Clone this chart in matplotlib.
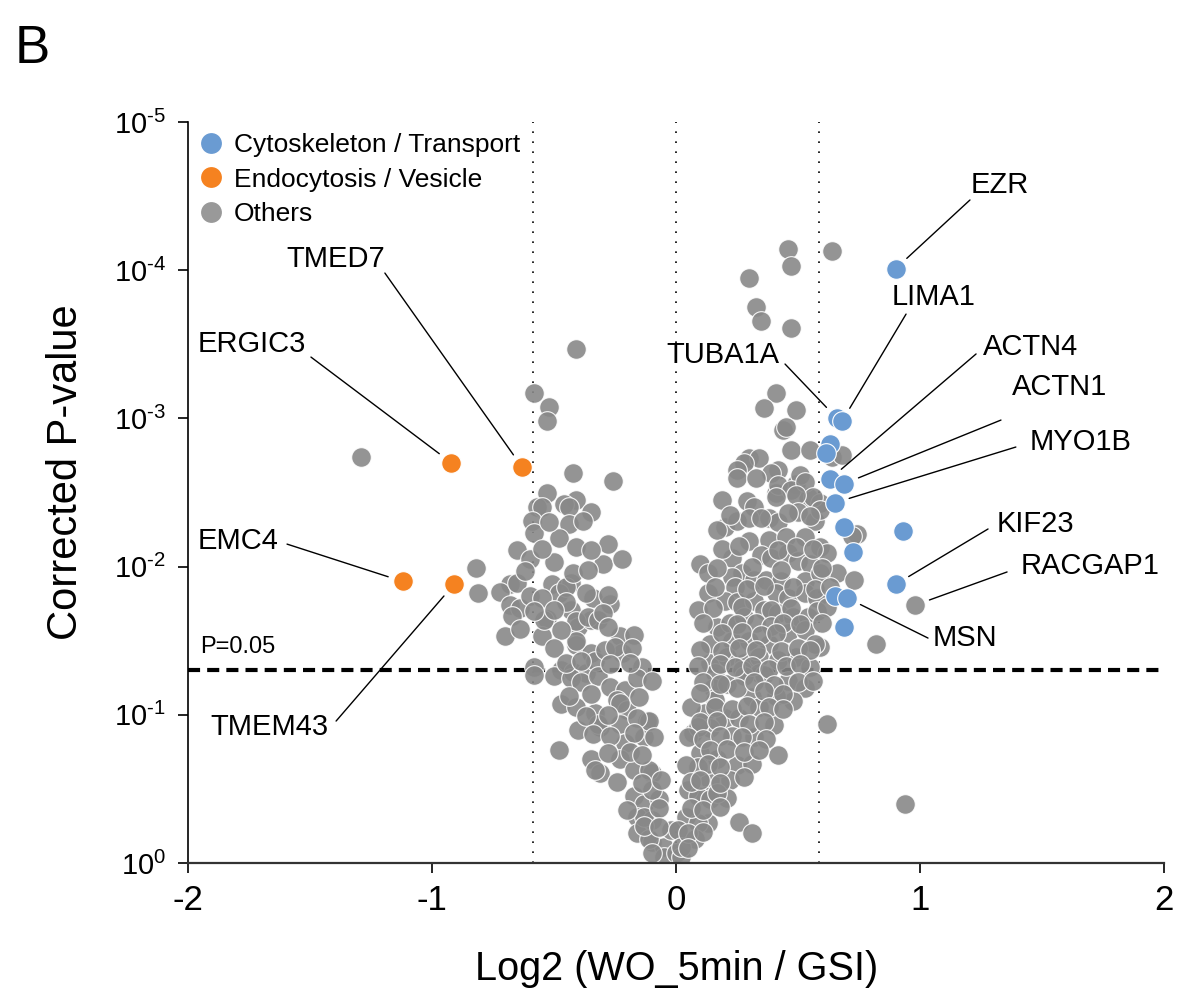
import numpy as np
import matplotlib
matplotlib.use("Agg")
import matplotlib.pyplot as plt
from matplotlib.lines import Line2D
from matplotlib.ticker import NullLocator, FuncFormatter

plt.rcParams['font.family'] = ['Liberation Sans', 'DejaVu Sans']
plt.rcParams['axes.unicode_minus'] = False
plt.rcParams['mathtext.fontset'] = 'custom'
plt.rcParams['mathtext.rm'] = 'Liberation Sans'

#-------data: log2 fold change and -log10(corrected P)-------
# left arm of the volcano (others)
gray_left_fc = [-0.41, -0.58, -0.52, -0.53, -0.42, -0.26, -0.53, -0.41, -0.57, -0.55,
                -0.46, -0.44, -0.35, -0.59, -0.44, -0.58, -0.48, -0.28, -0.30, -0.22,
                -0.65, -0.60, -0.50, -0.82, -0.68, -0.72, -0.51, -0.43, -0.34, -0.48,
                -0.81, -0.65, -0.68, -0.64, -0.67, -0.70, -0.45, -0.37, -0.53, -0.55,
                -0.43, -0.40, -0.35, -0.41, -0.35, -0.58, -0.47, -0.42, -0.37, -0.54,
                -0.45, -0.41, -0.36, -0.32, -0.41, -0.33, -0.23, -0.17, -0.22, -0.14,
                -0.58, -0.50, -0.43, -0.39, -0.32, -0.27, -0.21, -0.16, -0.10, -0.47,
                -0.41, -0.33, -0.24, -0.20, -0.40, -0.31, -0.23, -0.12, -0.21, -0.13,
                -0.48, -0.35, -0.31, -0.23, -0.17, -0.10, -0.17, -0.13, -0.07, -0.16,
                -0.10, -0.16, -0.10, -0.05, -0.02, -0.05, -0.27, -0.32, -0.23, -0.11,
                -0.09, -0.11, -0.33, -0.10, -0.13, -0.11, -0.10, 0.00]
gray_left_nlp = [3.47, 3.17, 3.08, 2.98, 2.63, 2.58, 2.50, 2.45, 2.40, 2.40,
                 2.42, 2.40, 2.37, 2.31, 2.29, 2.23, 2.19, 2.15, 2.02, 2.05,
                 2.11, 2.05, 2.03, 1.99, 1.88, 1.83, 1.88, 1.89, 1.79, 1.82,
                 1.82, 1.89, 1.74, 1.72, 1.67, 1.53, 1.86, 1.82, 1.65, 1.53,
                 1.71, 1.59, 1.64, 1.47, 1.42, 1.32, 1.30, 1.29, 1.28, 1.64,
                 1.76, 1.63, 1.66, 1.64, 1.50, 1.36, 1.53, 1.54, 1.42, 1.32,
                 1.27, 1.26, 1.25, 1.22, 1.26, 1.19, 1.17, 1.25, 1.23, 1.07,
                 1.05, 1.01, 1.10, 1.03, 0.90, 0.92, 0.94, 0.96, 0.81, 0.85,
                 0.76, 0.70, 0.61, 0.70, 0.63, 0.61, 0.45, 0.40, 0.43, 0.31,
                 0.29, 0.20, 0.14, 0.11, 0.22, 0.04, 1.75, 0.94, 1.08, 0.96,
                 0.85, 0.63, 0.63, 0.49, 0.31, 0.16, 0.07, 0.07]
# densely packed middle of the left arm
gray_left_core_fc = [-0.52, -0.38,
                     -0.55, -0.41, -0.35,
                     -0.62, -0.42, -0.36,
                     -0.60, -0.55, -0.28,
                     -0.58, -0.50, -0.30,
                     -0.64, -0.47, -0.28,
                     -0.50, -0.29, -0.25, -0.18,
                     -0.45, -0.39, -0.27, -0.19,
                     -0.44, -0.35, -0.15,
                     -0.37, -0.28, -0.16,
                     -0.34, -0.27, -0.17,
                     -0.28, -0.19, -0.14,
                     -0.24, -0.14, -0.06,
                     -0.20, -0.07,
                     -0.13, -0.07]
gray_left_core_nlp = [2.30, 2.31,
                      2.12, 2.13, 2.11,
                      1.97, 1.96, 1.98,
                      1.80, 1.79, 1.81,
                      1.70, 1.71, 1.69,
                      1.58, 1.57, 1.59,
                      1.45, 1.44, 1.46, 1.45,
                      1.35, 1.36, 1.34, 1.35,
                      1.13, 1.14, 1.12,
                      0.99, 1.00, 0.98,
                      0.87, 0.86, 0.88,
                      0.74, 0.75, 0.73,
                      0.55, 0.54, 0.56,
                      0.36, 0.37,
                      0.25, 0.24]
# right arm of the volcano (others)
gray_right_fc = [0.46, 0.47, 0.64, 0.30, 0.33, 0.35, 0.47, 0.41, 0.36, 0.49,
                 0.44, 0.45, 0.47, 0.55, 0.64, 0.30, 0.34, 0.28, 0.25, 0.42,
                 0.39, 0.49, 0.51, 0.41, 0.19, 0.54, 0.59, 0.68, 0.74, 0.59,
                 0.25, 0.33, 0.42, 0.47, 0.53, 0.56, 0.29, 0.32, 0.41, 0.49,
                 0.20, 0.17, 0.25, 0.30, 0.38, 0.42, 0.50, 0.57, 0.59, 0.72,
                 0.30, 0.38, 0.45, 0.53, 0.59, 0.62, 0.10, 0.13, 0.23, 0.27,
                 0.35, 0.39, 0.46, 0.50, 0.55, 0.66, 0.73, 0.23, 0.24, 0.32,
                 0.37, 0.43, 0.53, 0.59, 0.13, 0.09, 0.20, 0.25, 0.32, 0.41,
                 0.46, 0.53, 0.58, 0.17, 0.14, 0.22, 0.28, 0.36, 0.42, 0.48,
                 0.54, 0.23, 0.30, 0.38, 0.46, 0.53, 0.57, 0.14, 0.21, 0.28,
                 0.34, 0.42, 0.49, 0.55, 0.16, 0.27, 0.34, 0.15, 0.21, 0.28,
                 0.36, 0.46, 0.53, 0.48, 0.41, 0.31, 0.25, 0.12, 0.20, 0.26,
                 0.34, 0.40, 0.32, 0.23, 0.14, 0.07, 0.10, 0.25, 0.31, 0.42,
                 0.22, 0.28, 0.14, 0.12, 0.21, 0.13, 0.26, 0.31, 0.02, 0.06,
                 0.16, 0.09, 0.17, 0.09, 0.05, 0.09, 0.14, 0.17, 0.04, 0.09,
                 0.01, 0.08, 0.02]
gray_right_nlp = [4.14, 4.03, 4.13, 3.95, 3.75, 3.66, 3.61, 3.17, 3.07, 3.06,
                  2.92, 2.94, 2.79, 2.79, 2.74, 2.73, 2.73, 2.70, 2.65, 2.65,
                  2.63, 2.56, 2.62, 2.50, 2.45, 2.47, 2.43, 2.75, 2.22, 1.46,
                  2.60, 2.60, 2.55, 2.52, 2.57, 2.47, 2.44, 2.40, 2.47, 2.48,
                  2.27, 2.25, 2.31, 2.33, 2.33, 2.30, 2.37, 2.31, 2.38, 2.21,
                  2.17, 2.18, 2.20, 2.20, 2.13, 2.09, 2.02, 1.96, 2.06, 1.96,
                  2.08, 2.06, 2.09, 2.04, 2.02, 1.96, 1.91, 1.93, 1.86, 1.91,
                  1.91, 1.90, 1.90, 1.96, 1.82, 1.71, 1.77, 1.76, 1.77, 1.82,
                  1.79, 1.82, 1.79, 1.59, 1.48, 1.62, 1.66, 1.71, 1.69, 1.66,
                  1.66, 1.50, 1.50, 1.48, 1.55, 1.57, 1.48, 1.35, 1.39, 1.35,
                  1.39, 1.37, 1.39, 1.32, 1.28, 1.30, 1.28, 1.18, 1.21, 1.26,
                  1.27, 1.23, 1.18, 1.09, 1.13, 1.12, 1.18, 1.01, 0.98, 0.98,
                  1.05, 0.93, 0.85, 0.86, 0.91, 0.88, 0.74, 0.66, 0.67, 0.73,
                  0.56, 0.58, 0.56, 0.45, 0.44, 0.27, 0.28, 0.20, 0.04, 1.05,
                  1.10, 0.92, 0.70, 0.65, 0.49, 0.45, 0.43, 0.47, 0.31, 0.27,
                  0.22, 0.16, 0.11]
# densely packed middle of the right arm
gray_right_core_fc = [0.22, 0.35, 0.46, 0.55,
                      0.19, 0.26, 0.42, 0.49, 0.56,
                      0.17, 0.31, 0.43, 0.60,
                      0.16, 0.29, 0.36, 0.48, 0.57, 0.63,
                      0.15, 0.27, 0.39, 0.47, 0.58, 0.62,
                      0.11, 0.25, 0.33, 0.39, 0.44, 0.51, 0.60,
                      0.19, 0.27, 0.35, 0.41,
                      0.10, 0.19, 0.26, 0.33, 0.43, 0.50, 0.55,
                      0.09, 0.18, 0.24, 0.31, 0.38, 0.45, 0.51,
                      0.11, 0.18, 0.32, 0.40, 0.50, 0.56,
                      0.10, 0.36, 0.44,
                      0.16, 0.23, 0.29, 0.38, 0.44,
                      0.10, 0.17, 0.30, 0.36,
                      0.05, 0.11, 0.18, 0.27, 0.37,
                      0.14, 0.21, 0.28, 0.34,
                      0.04, 0.13, 0.18,
                      0.06, 0.10, 0.18,
                      0.06, 0.11, 0.18,
                      0.05, 0.11,
                      0.05]
gray_right_core_nlp = [2.35, 2.33, 2.36, 2.34,
                       2.12, 2.14, 2.11, 2.13, 2.12,
                       1.99, 2.00, 1.98, 1.99,
                       1.86, 1.85, 1.87, 1.86, 1.85, 1.86,
                       1.72, 1.73, 1.71, 1.72, 1.70, 1.73,
                       1.62, 1.61, 1.62, 1.60, 1.62, 1.61, 1.62,
                       1.55, 1.56, 1.54, 1.55,
                       1.44, 1.43, 1.45, 1.44, 1.43, 1.45, 1.44,
                       1.33, 1.34, 1.32, 1.33, 1.31, 1.33, 1.34,
                       1.22, 1.21, 1.22, 1.20, 1.22, 1.23,
                       1.15, 1.16, 1.14,
                       1.05, 1.04, 1.06, 1.05, 1.04,
                       0.95, 0.96, 0.94, 0.95,
                       0.85, 0.84, 0.86, 0.85, 0.84,
                       0.76, 0.77, 0.75, 0.76,
                       0.66, 0.67, 0.65,
                       0.55, 0.56, 0.54,
                       0.37, 0.36, 0.38,
                       0.20, 0.21,
                       0.10]
# isolated others
gray_out_fc = [-1.29, 0.94, 0.62, 0.82]
gray_out_nlp = [2.74, 0.40, 0.94, 1.48]
racgap1_fc, racgap1_nlp = 0.98, 1.74

blue_names = ["EZR", "TUBA1A", "LIMA1", "", "", "ACTN4", "ACTN1", "MYO1B",
              "", "", "", "KIF23", "", "MSN", ""]
blue_fc = [0.90, 0.66, 0.68, 0.63, 0.615, 0.63, 0.69, 0.65, 0.69, 0.725, 0.93, 0.90, 0.65, 0.70, 0.69]
blue_nlp = [4.01, 3.00, 2.98, 2.83, 2.77, 2.59, 2.56, 2.43, 2.27, 2.10, 2.24, 1.88, 1.80, 1.79, 1.59]

orange_names = ["ERGIC3", "TMED7", "EMC4", "TMEM43"]
orange_fc = [-0.92, -0.63, -1.12, -0.91]
orange_nlp = [2.70, 2.67, 1.90, 1.88]

fc_cut = np.log2(1.5)
p_cut = 0.05

#-------label layout: text centre and leader start (fc, -log10 P)-------
label_layout = {
    "EZR":     (1.328, 4.575, 1.205, 4.474),
    "LIMA1":   (1.057, 3.819, 0.943, 3.704),
    "ACTN4":   (1.455, 3.482, 1.230, 3.435),
    "ACTN1":   (1.574, 3.212, 1.332, 2.989),
    "MYO1B":   (1.660, 2.841, 1.393, 2.807),
    "KIF23":   (1.475, 2.288, 1.279, 2.254),
    "RACGAP1": (1.697, 2.004, 1.357, 1.964),
    "MSN":     (1.184, 1.518, 1.033, 1.518),
    "TUBA1A":  (0.193, 3.428, 0.447, 3.367),
    "TMED7":   (-1.393, 4.076, -1.193, 3.981),
    "ERGIC3":  (-1.738, 3.502, -1.496, 3.414),
    "EMC4":    (-1.795, 2.173, -1.594, 2.152),
    "TMEM43":  (-1.668, 0.918, -1.393, 0.958),
}

c_blue = "#6a9bd2"
c_orange = "#f58220"
c_gray = "#888888"

def topval(nlp):
    return 10.0 ** (-np.asarray(nlp, dtype=float))

def exp_label(v, pos):
    e = int(round(np.log10(v)))
    if e < 0:
        return r"$\mathdefault{10^{\text{-}%d}}$" % (-e)
    return r"$\mathdefault{10^{%d}}$" % e

#-------plot-------
fig = plt.figure(figsize=(11.83, 9.92), dpi=100)
ax = fig.add_axes([0.1589, 0.1300, 0.8250, 0.7470])

for xv in (-fc_cut, 0.0, fc_cut):
    ax.axvline(xv, color="k", lw=1.2, linestyle=(0, (1, 5)), zorder=1)
ax.axhline(p_cut, color="k", lw=3, linestyle=(0, (2.9, 1.7)), zorder=1)

gx = gray_left_fc + gray_left_core_fc + gray_right_fc + gray_right_core_fc + gray_out_fc + [racgap1_fc]
gy = gray_left_nlp + gray_left_core_nlp + gray_right_nlp + gray_right_core_nlp + gray_out_nlp + [racgap1_nlp]
ax.scatter(gx, topval(gy), s=200, c=c_gray, alpha=0.9,
           edgecolors="white", linewidths=0.8, zorder=2)
ax.scatter(blue_fc, topval(blue_nlp), s=200, c=c_blue,
           edgecolors="white", linewidths=0.8, zorder=3)
ax.scatter(orange_fc, topval(orange_nlp), s=200, c=c_orange,
           edgecolors="white", linewidths=0.8, zorder=3)

# gene labels with leader lines
points = {}
for n, x, y in zip(blue_names, blue_fc, blue_nlp):
    if n:
        points[n] = (x, y)
for n, x, y in zip(orange_names, orange_fc, orange_nlp):
    points[n] = (x, y)
points["RACGAP1"] = (racgap1_fc, racgap1_nlp)

for gene, (tx, ty, sx, sy) in label_layout.items():
    px, py = points[gene]
    ax.annotate("", xy=(px, 10 ** -py), xytext=(sx, 10 ** -sy),
                arrowprops=dict(arrowstyle="-", color="k", lw=1,
                                shrinkA=0, shrinkB=11), zorder=4)
    ax.text(tx, 10 ** -ty, gene, fontsize=21, ha="center", va="center", zorder=5)

ax.text(-1.795, 10 ** -1.457, "P=0.05", fontsize=17, ha="center", va="center")

# axes
ax.set_yscale("log")
ax.set_xlim(-2, 2)
ax.set_ylim(1, 1e-5)
ax.set_xticks([-2, -1, 0, 1, 2])
ax.set_yticks([1, 1e-1, 1e-2, 1e-3, 1e-4, 1e-5])
ax.yaxis.set_minor_locator(NullLocator())
ax.yaxis.set_major_formatter(FuncFormatter(exp_label))
ax.spines["top"].set_visible(False)
ax.spines["right"].set_visible(False)
ax.spines["left"].set_linewidth(1.2)
ax.spines["bottom"].set_linewidth(1.6)
ax.spines["bottom"].set_color("#333333")
ax.tick_params(axis="y", length=7, width=1.2, labelsize=21, pad=9)
ax.tick_params(axis="x", length=7, width=1.2, labelsize=25, pad=8)

ax.set_xlabel("Log2 (WO_5min / GSI)", fontsize=28.5)
ax.set_ylabel("Corrected P-value", fontsize=30)
ax.xaxis.set_label_coords(0.501, -0.118)
ax.yaxis.set_label_coords(-0.105, 0.528)

handles = [Line2D([], [], marker="o", ls="", markersize=15,
                  markerfacecolor=c, markeredgecolor="none")
           for c in (c_blue, c_orange, "#999999")]
ax.legend(handles, ["Cytoskeleton / Transport", "Endocytosis / Vesicle", "Others"],
          loc="upper left", bbox_to_anchor=(0.0102, 0.985), frameon=False,
          fontsize=19, handlelength=1.0, handletextpad=0.35,
          labelspacing=0.40, borderpad=0, borderaxespad=0)

fig.text(0.012, 0.9365, "B", fontsize=38, ha="left", va="baseline")

fig.savefig("out.png", dpi=100)
